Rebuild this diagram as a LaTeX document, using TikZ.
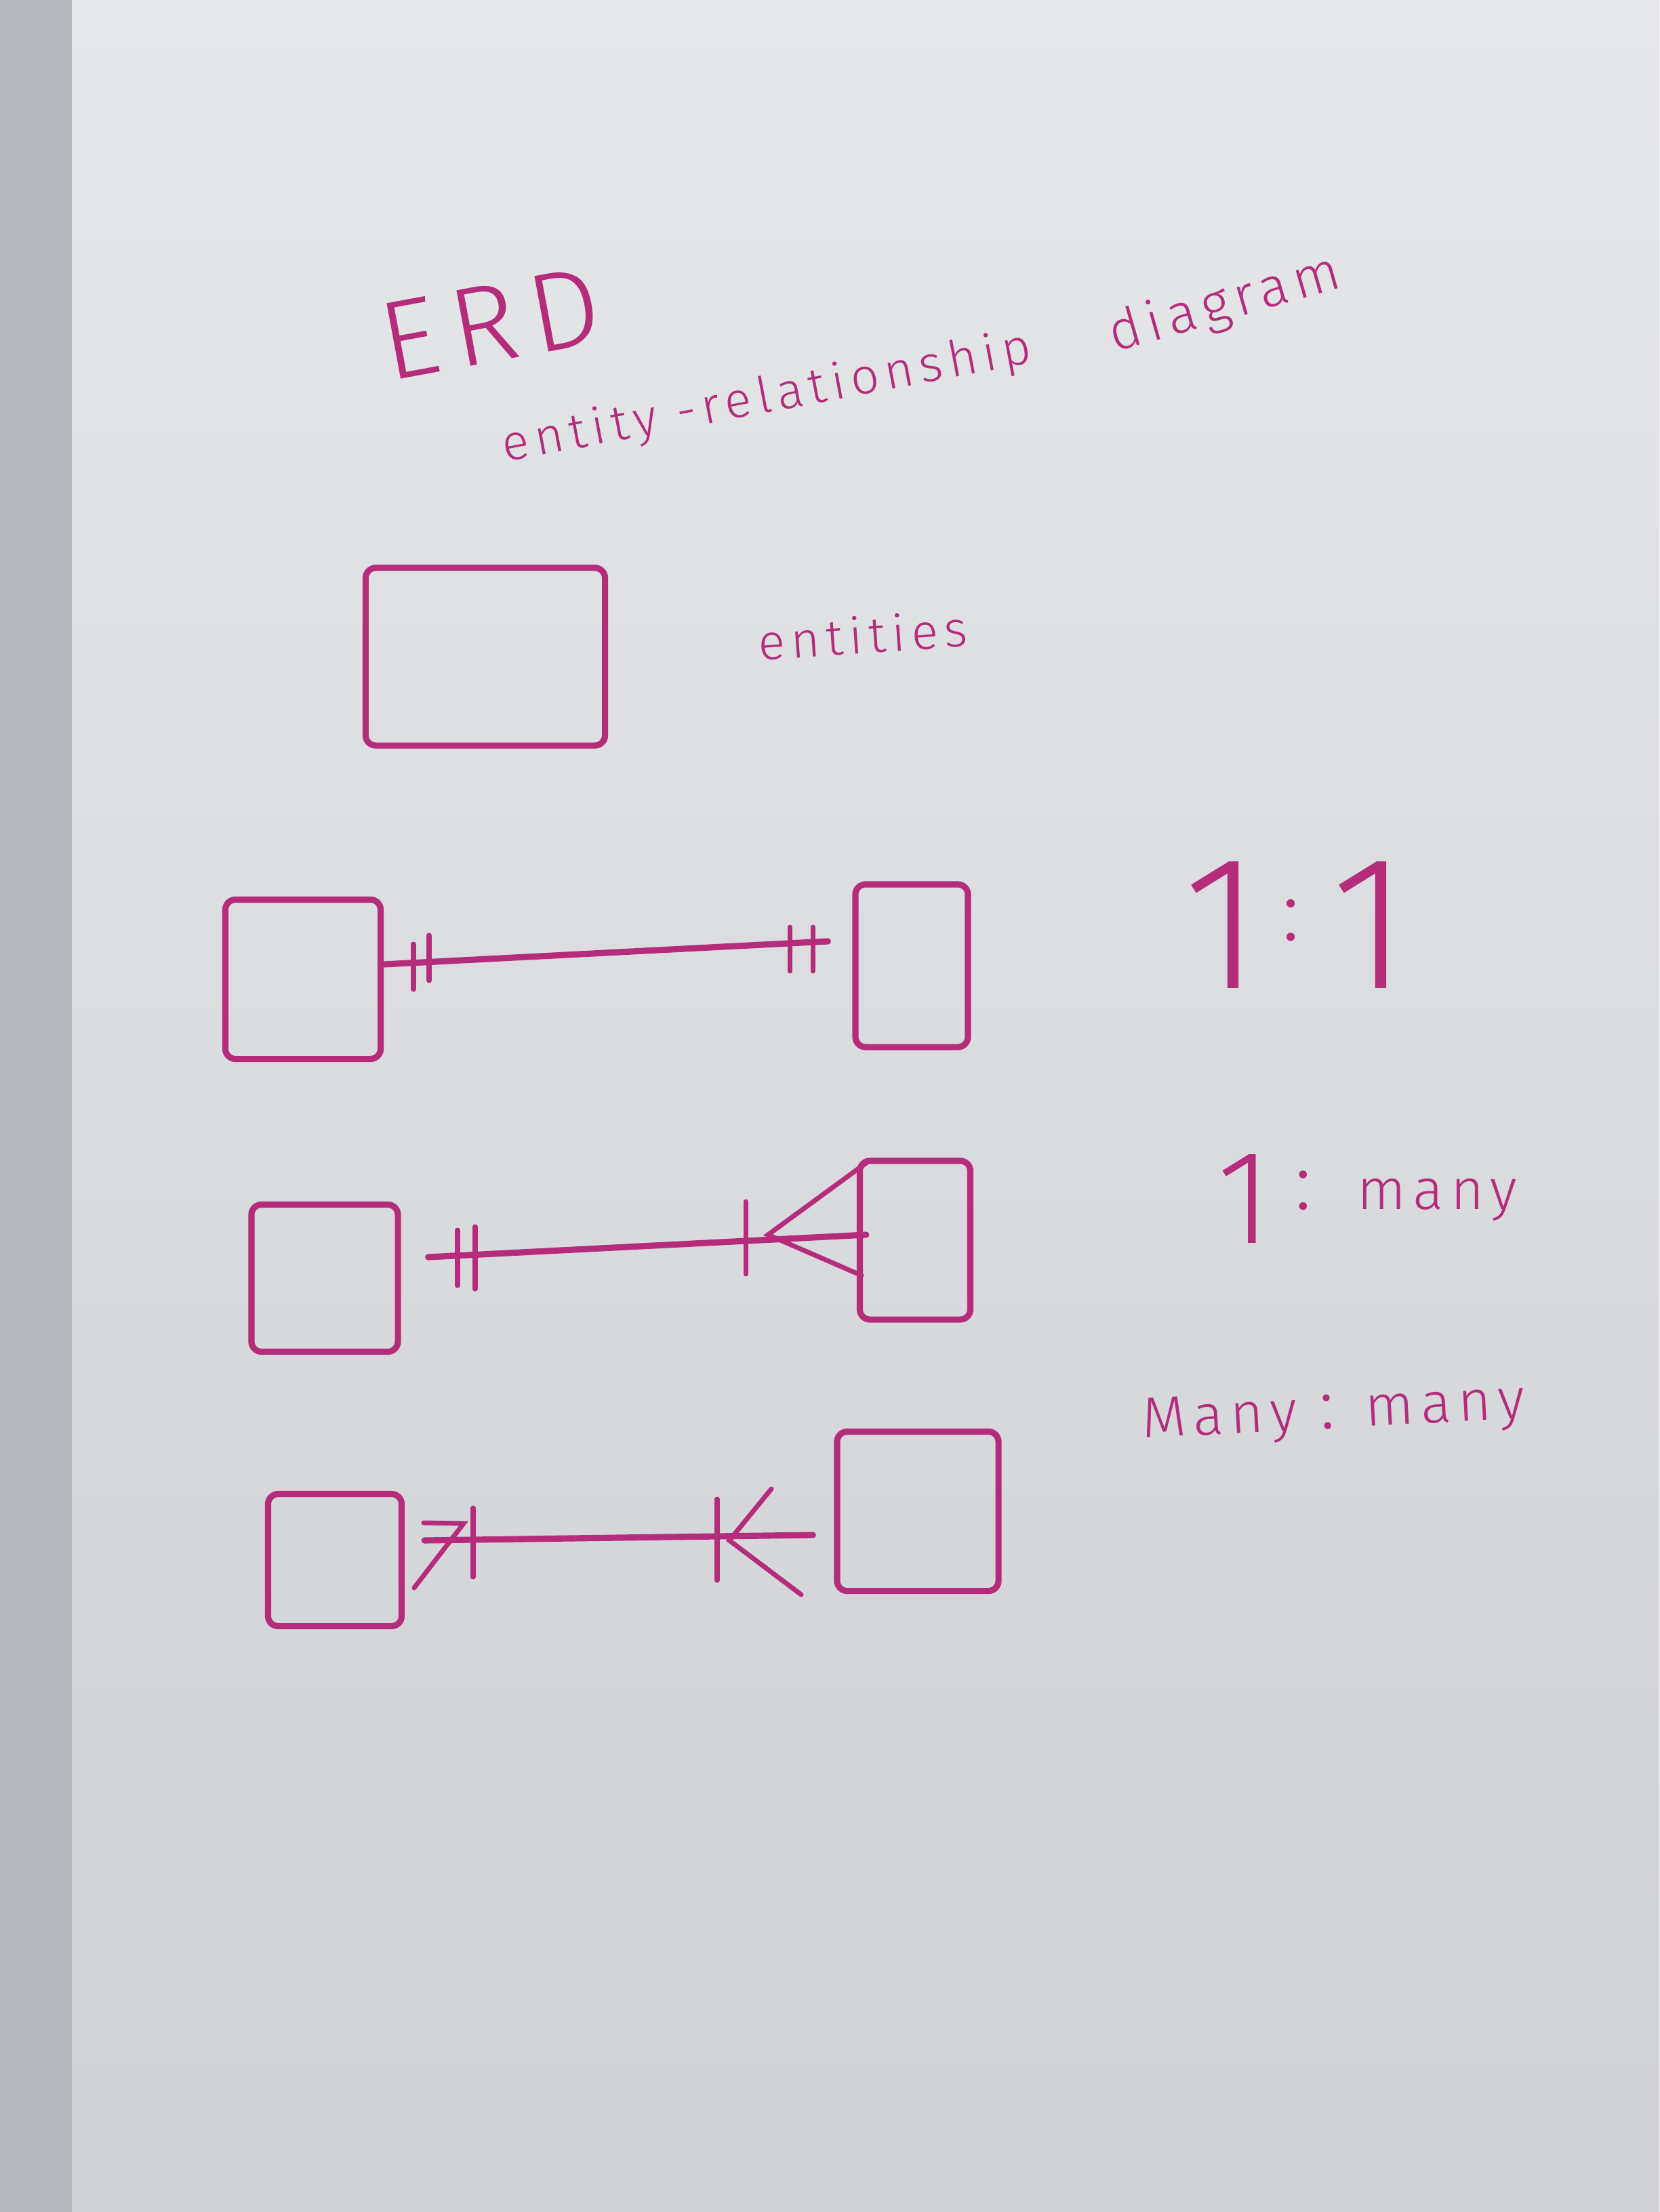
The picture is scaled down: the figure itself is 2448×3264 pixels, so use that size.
\documentclass[tikz,border=0pt]{standalone}
\usepackage{fontspec}
\newfontfamily\hand{Fira Sans}[UprightFont=* Light, LetterSpace=12]
\usetikzlibrary{positioning,shapes}
\definecolor{pen}{RGB}{180,44,122}
\definecolor{boardtop}{RGB}{230,231,233}
\definecolor{boardmid}{RGB}{225,227,229}
\definecolor{boardlow}{RGB}{206,208,212}
\definecolor{wall}{RGB}{182,186,190}
\tikzstyle{E} = [rectangle,
			draw=pen, line width=2.6pt,
			rounded corners=0.15cm, inner sep=0pt]
\tikzstyle{W} = [text=pen, anchor=base west,
			inner sep=0pt, font=\hand\fontsize{21}{21}\selectfont]
\tikzstyle{L} = [draw=pen, line width=2.6pt, line cap=round]
\tikzstyle{M} = [draw=pen, line width=2pt, line cap=round]

\begin{document}
\begin{tikzpicture}[x=0.01cm, y=-0.01cm]

\useasboundingbox (0,0) rectangle (2448,3264);
\shade[top color=boardtop, middle color=boardmid, bottom color=boardlow]
	(0,0) rectangle (2448,3264);
\fill[wall] (0,0) rectangle (106,3264);

% title
\node [W, rotate=10.5, font=\hand\fontsize{47}{47}\selectfont]
(erd) at (573,563)
	{ERD};

\node [W, rotate=10.7, font=\hand\fontsize{21}{21}\selectfont]
(full) at (745,682)
	{entity -relationship};

\node [W, rotate=16, font=\hand\fontsize{23}{23}\selectfont]
(diag) at (1644,520)
	{diagram};

% entity
\node [E, minimum width=3.53cm, minimum height=2.62cm]
(ent) at (716,969)
	{};

\node [W, rotate=4]
(entl) at (1120,975)
	{entities};

% 1 : 1
\node [E, minimum width=2.29cm, minimum height=2.35cm]
(a1) at (447,1445)
	{};

\node [E, minimum width=1.66cm, minimum height=2.40cm]
(b1) at (1345,1425)
	{};

\path[L] ([yshift=0.22cm]a1.east) -- ([xshift=-0.36cm,yshift=0.36cm]b1.west);
\path[M] (610,1393) -- (610,1460);
\path[M] (633,1380) -- (633,1447);
\path[M] (1165,1368) -- (1165,1433);
\path[M] (1199,1368) -- (1199,1433);

\node [W, font=\hand\fontsize{80}{80}\selectfont]
(r1) at (1745,1458)
	{1\kern0.3cm\raisebox{0.7cm}{\fontsize{36}{36}\selectfont :}\kern0.45cm1};

% 1 : many
\node [E, minimum width=2.16cm, minimum height=2.17cm]
(a2) at (479,1886)
	{};

\node [E, minimum width=1.63cm, minimum height=2.34cm]
(b2) at (1350,1830)
	{};

\path[L] ([xshift=0.4cm,yshift=0.31cm]a2.east) -- ([xshift=0.14cm,yshift=0.08cm]b2.west);
\path[M] (675,1815) -- (675,1897);
\path[M] (701,1810) -- (701,1902);
\path[M] (1100,1773) -- (1100,1880);
\path[M] (1282,1713) -- (1133,1822) -- (1271,1882);

\node [W, font=\hand\fontsize{24}{24}\selectfont]
(r2) at (1795,1784)
	{\raisebox{-0.5cm}{\fontsize{56}{56}\selectfont 1}\ {\fontsize{34}{34}\selectfont :}\ \ many};

% many : many
\node [E, minimum width=1.97cm, minimum height=1.95cm]
(a3) at (494,2302)
	{};

\node [E, minimum width=2.38cm, minimum height=2.35cm]
(b3) at (1354,2230)
	{};

\path[L] ([xshift=0.29cm,yshift=0.29cm]a3.east) -- ([xshift=-0.31cm,yshift=-0.35cm]b3.west);
\path[M] (625,2247) -- (684,2248) -- (611,2343);
\path[M] (698,2225) -- (698,2327);
\path[M] (1058,2212) -- (1058,2332);
\path[M] (1138,2197) -- (1076,2273) -- (1182,2353);

\node [W, rotate=3, font=\hand\fontsize{24}{24}\selectfont]
(r3) at (1686,2122)
	{Many {\fontsize{30}{30}\selectfont :} many};

\end{tikzpicture}
\end{document}
